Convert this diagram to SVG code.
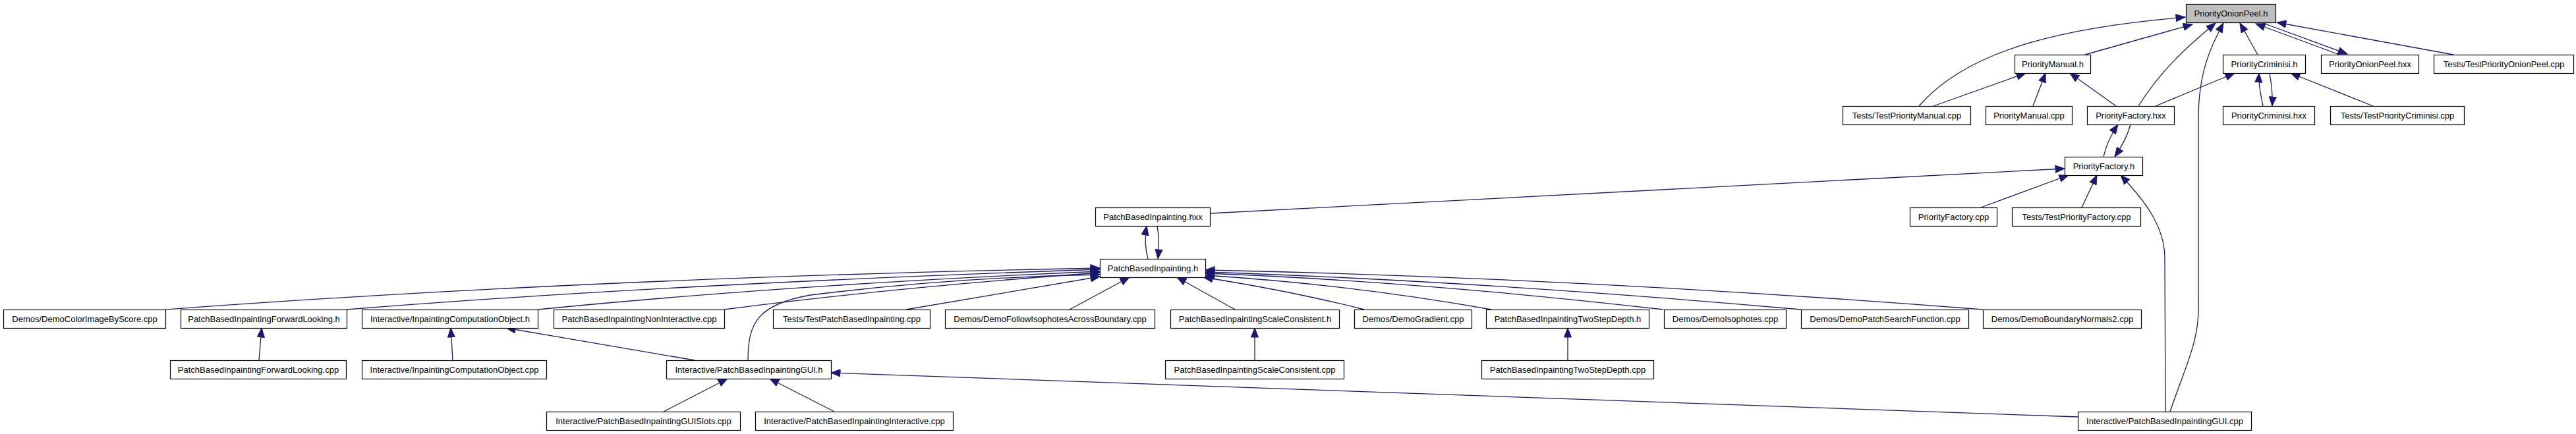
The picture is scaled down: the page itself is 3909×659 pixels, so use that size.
<svg xmlns="http://www.w3.org/2000/svg" width="3909" height="659" viewBox="0 0 3909 659">
<style>
.node rect{fill:#ffffff;stroke:#000000;stroke-width:1.2}
.root rect{fill:#bfbfbf}
.node text{font-family:"Liberation Sans",Arial,sans-serif;font-size:13px;text-anchor:middle;fill:#000000}
.edge{fill:none;stroke:#191970;stroke-width:1.3;marker-end:url(#arr)}
</style>
<defs>
<marker id="arr" markerUnits="userSpaceOnUse" markerWidth="16" markerHeight="12" refX="14.5" refY="6" orient="auto">
<path d="M0.5,0.5 L14.5,6 L0.5,11.5 z" fill="#191970" stroke="#191970" stroke-width="1"/>
</marker>
</defs>
<rect x="0" y="0" width="3909" height="659" fill="#ffffff"/>
<g id="connectors">
<path class="edge" d="M2912,161 C2990,70 3150,40 3316,26"/>
<path class="edge" d="M3164,83 L3327,37"/>
<path class="edge" d="M3245,161 C3280,105 3320,70 3362,35"/>
<path class="edge" d="M3293,625 C3315,560 3336,520 3336,470 L3336,180 C3336,110 3355,70 3374,35"/>
<path class="edge" d="M3426,83 L3399,35"/>
<path class="edge" d="M3550,83 L3423,36"/>
<path class="edge" d="M3434,35 L3562,82"/>
<path class="edge" d="M3723,83 L3455,34"/>
<path class="edge" d="M3271,161 L3391,111"/>
<path class="edge" d="M3434,161 C3430,140 3427,128 3428,111"/>
<path class="edge" d="M3444,111 C3447,128 3449,143 3448,161"/>
<path class="edge" d="M3601,161 L3476,111"/>
<path class="edge" d="M2934,161 L3074,111"/>
<path class="edge" d="M3085,161 L3104,111"/>
<path class="edge" d="M3211,161 L3141,111"/>
<path class="edge" d="M3192,238 C3196,220 3203,205 3214,189"/>
<path class="edge" d="M3233,189 C3228,208 3220,222 3209,238"/>
<path class="edge" d="M3006,315 L3139,266"/>
<path class="edge" d="M3159,315 L3182,266"/>
<path class="edge" d="M3286,625 L3285,390 C3284,340 3250,300 3218,266"/>
<path class="edge" d="M1836,324 L3133,256"/>
<path class="edge" d="M1742,393 C1737,375 1737,360 1740,343"/>
<path class="edge" d="M1756,343 C1759,360 1759,375 1757,393"/>
<path class="edge" d="M251,470 Q900,422 1669,407"/>
<path class="edge" d="M526,470 Q1000,432 1669,409"/>
<path class="edge" d="M816,470 Q1200,432 1669,412"/>
<path class="edge" d="M1099,470 Q1350,437 1669,414"/>
<path class="edge" d="M1375,470 L1669,420"/>
<path class="edge" d="M1135,547 C1135,490 1150,462 1230,448 C1400,427 1550,419 1669,417"/>
<path class="edge" d="M1623,470 L1714,421"/>
<path class="edge" d="M1874,470 L1786,421"/>
<path class="edge" d="M2070,470 Q1960,442 1826,421"/>
<path class="edge" d="M2263,470 Q2050,432 1829,418"/>
<path class="edge" d="M2524,470 Q2150,427 1829,415"/>
<path class="edge" d="M2733,470 Q2250,427 1829,413"/>
<path class="edge" d="M3009,470 Q2400,422 1829,410"/>
<path class="edge" d="M393,547 L397,498"/>
<path class="edge" d="M687,547 L684,498"/>
<path class="edge" d="M1054,547 L768,498"/>
<path class="edge" d="M1007,625 L1104,575"/>
<path class="edge" d="M1266,625 L1168,575"/>
<path class="edge" d="M3153,633 L1261,566"/>
<path class="edge" d="M1904,547 L1904,498"/>
<path class="edge" d="M2379,547 L2379,498"/>
</g>
<g id="n_root" class="node root"><rect x="3317.5" y="6.5" width="136" height="28"/><text x="3385.5" y="25">PriorityOnionPeel.h</text></g>
<g id="n_pm_h" class="node"><rect x="3057.5" y="83.5" width="115" height="28"/><text x="3115" y="102">PriorityManual.h</text></g>
<g id="n_pc_h" class="node"><rect x="3373.5" y="83.5" width="125" height="28"/><text x="3436" y="102">PriorityCriminisi.h</text></g>
<g id="n_pop_hxx" class="node"><rect x="3522.5" y="83.5" width="148" height="28"/><text x="3596.5" y="102">PriorityOnionPeel.hxx</text></g>
<g id="n_test_pop" class="node"><rect x="3693.5" y="83.5" width="212" height="28"/><text x="3799.5" y="102">Tests/TestPriorityOnionPeel.cpp</text></g>
<g id="n_test_pm" class="node"><rect x="2796.5" y="161.5" width="194" height="28"/><text x="2893.5" y="180">Tests/TestPriorityManual.cpp</text></g>
<g id="n_pm_cpp" class="node"><rect x="3013.5" y="161.5" width="131" height="28"/><text x="3079" y="180">PriorityManual.cpp</text></g>
<g id="n_pf_hxx" class="node"><rect x="3167.5" y="161.5" width="132" height="28"/><text x="3233.5" y="180">PriorityFactory.hxx</text></g>
<g id="n_pc_hxx" class="node"><rect x="3373.5" y="161.5" width="139" height="28"/><text x="3443" y="180">PriorityCriminisi.hxx</text></g>
<g id="n_test_pc" class="node"><rect x="3536.5" y="161.5" width="203" height="28"/><text x="3638" y="180">Tests/TestPriorityCriminisi.cpp</text></g>
<g id="n_pf_h" class="node"><rect x="3133.5" y="238.5" width="118" height="28"/><text x="3192.5" y="257">PriorityFactory.h</text></g>
<g id="n_pf_cpp" class="node"><rect x="2898.5" y="315.5" width="132" height="28"/><text x="2964.5" y="334">PriorityFactory.cpp</text></g>
<g id="n_test_pf" class="node"><rect x="3053.5" y="315.5" width="195" height="28"/><text x="3151" y="334">Tests/TestPriorityFactory.cpp</text></g>
<g id="n_pbi_hxx" class="node"><rect x="1662.5" y="315.5" width="174" height="28"/><text x="1749.5" y="334">PatchBasedInpainting.hxx</text></g>
<g id="n_pbi_h" class="node"><rect x="1669.5" y="393.5" width="160" height="28"/><text x="1749.5" y="412">PatchBasedInpainting.h</text></g>
<g id="n_d_color" class="node"><rect x="5.5" y="470.5" width="246" height="28"/><text x="128.5" y="489">Demos/DemoColorImageByScore.cpp</text></g>
<g id="n_fl_h" class="node"><rect x="274.5" y="470.5" width="252" height="28"/><text x="400.5" y="489">PatchBasedInpaintingForwardLooking.h</text></g>
<g id="n_ico_h" class="node"><rect x="549.5" y="470.5" width="267" height="28"/><text x="683" y="489">Interactive/InpaintingComputationObject.h</text></g>
<g id="n_nonint" class="node"><rect x="840.5" y="470.5" width="259" height="28"/><text x="970" y="489">PatchBasedInpaintingNonInteractive.cpp</text></g>
<g id="n_test_pbi" class="node"><rect x="1173.5" y="470.5" width="238" height="28"/><text x="1292.5" y="489">Tests/TestPatchBasedInpainting.cpp</text></g>
<g id="n_d_follow" class="node"><rect x="1434.5" y="470.5" width="318" height="28"/><text x="1593.5" y="489">Demos/DemoFollowIsophotesAcrossBoundary.cpp</text></g>
<g id="n_sc_h" class="node"><rect x="1776.5" y="470.5" width="256" height="28"/><text x="1904.5" y="489">PatchBasedInpaintingScaleConsistent.h</text></g>
<g id="n_d_grad" class="node"><rect x="2055.5" y="470.5" width="178" height="28"/><text x="2144.5" y="489">Demos/DemoGradient.cpp</text></g>
<g id="n_tsd_h" class="node"><rect x="2255.5" y="470.5" width="247" height="28"/><text x="2379" y="489">PatchBasedInpaintingTwoStepDepth.h</text></g>
<g id="n_d_iso" class="node"><rect x="2525.5" y="470.5" width="185" height="28"/><text x="2618" y="489">Demos/DemoIsophotes.cpp</text></g>
<g id="n_d_psf" class="node"><rect x="2733.5" y="470.5" width="254" height="28"/><text x="2860.5" y="489">Demos/DemoPatchSearchFunction.cpp</text></g>
<g id="n_d_bn2" class="node"><rect x="3009.5" y="470.5" width="240" height="28"/><text x="3129.5" y="489">Demos/DemoBoundaryNormals2.cpp</text></g>
<g id="n_fl_cpp" class="node"><rect x="258.5" y="547.5" width="267" height="28"/><text x="392" y="566">PatchBasedInpaintingForwardLooking.cpp</text></g>
<g id="n_ico_cpp" class="node"><rect x="549.5" y="547.5" width="280" height="28"/><text x="689.5" y="566">Interactive/InpaintingComputationObject.cpp</text></g>
<g id="n_gui_h" class="node"><rect x="1011.5" y="547.5" width="250" height="28"/><text x="1136.5" y="566">Interactive/PatchBasedInpaintingGUI.h</text></g>
<g id="n_sc_cpp" class="node"><rect x="1768.5" y="547.5" width="271" height="28"/><text x="1904" y="566">PatchBasedInpaintingScaleConsistent.cpp</text></g>
<g id="n_tsd_cpp" class="node"><rect x="2248.5" y="547.5" width="261" height="28"/><text x="2379" y="566">PatchBasedInpaintingTwoStepDepth.cpp</text></g>
<g id="n_slots" class="node"><rect x="829.5" y="625.5" width="294" height="28"/><text x="976.5" y="644">Interactive/PatchBasedInpaintingGUISlots.cpp</text></g>
<g id="n_inter" class="node"><rect x="1146.5" y="625.5" width="300" height="28"/><text x="1296.5" y="644">Interactive/PatchBasedInpaintingInteractive.cpp</text></g>
<g id="n_gui_cpp" class="node"><rect x="3153.5" y="625.5" width="263" height="28"/><text x="3285" y="644">Interactive/PatchBasedInpaintingGUI.cpp</text></g>
</svg>
